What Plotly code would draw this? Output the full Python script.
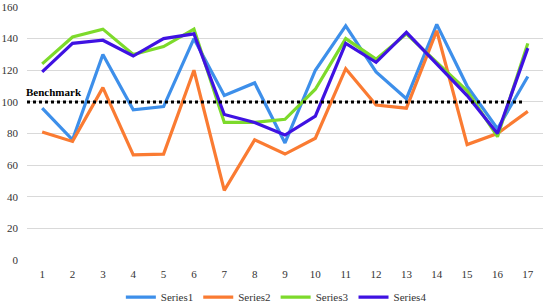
import plotly.graph_objects as go

categories = list(range(1, 18))
series1 = [96, 76, 130, 95, 97, 140, 104, 112, 74, 120, 148, 119, 102, 149, 110, 83, 116]
series2 = [81, 75, 109, 66.5, 67, 120, 44, 76, 67, 77, 121, 98, 96, 145, 73, 80, 94]
series3 = [124, 141, 146, 130, 135, 146, 87, 87, 89, 108, 140, 127, 143, 125, 107, 78, 137]
series4 = [119, 137, 139, 129, 140, 143, 92, 87, 79, 91, 137, 125, 144, 124, 104, 80, 134]
series_names = ["Series1", "Series2", "Series3", "Series4"]
series_colors = ["#3D8FEA", "#FA7B32", "#7DDA2B", "#3F12E2"]
benchmark_value = 100
benchmark_span = [0.5, 16.9]
benchmark_label = "Benchmark"
y_ticks = [0, 20, 40, 60, 80, 100, 120, 140, 160]

FONT = "Liberation Serif, Times New Roman, serif"

fig = go.Figure()
for name, vals, col in zip(series_names, [series1, series2, series3, series4], series_colors):
    fig.add_trace(go.Scatter(x=categories, y=vals, mode="lines", name=name,
                             line=dict(color=col, width=3.2)))

fig.add_trace(go.Scatter(x=benchmark_span, y=[benchmark_value] * len(benchmark_span),
                         mode="lines", showlegend=False, hoverinfo="skip",
                         line=dict(color="black", width=3, dash="dot")))

fig.add_annotation(x=benchmark_span[0], y=benchmark_value, xref="x", yref="y",
                   text="<b>" + benchmark_label + "</b>", showarrow=False,
                   xanchor="left", yanchor="bottom", yshift=2, xshift=-3,
                   font=dict(family=FONT, size=11, color="black"))

fig.update_layout(
    width=544, height=305,
    margin=dict(l=27, r=1, t=7, b=45, autoexpand=False),
    paper_bgcolor="white", plot_bgcolor="white",
    font=dict(family=FONT, size=11, color="#333333"),
    showlegend=True,
    legend=dict(orientation="h", xref="container", yref="container",
                x=0.508, xanchor="center", y=0.026, yanchor="middle",
                font=dict(family=FONT, size=11, color="#333333"),
                itemwidth=30, tracegroupgap=0),
)
fig.update_xaxes(range=[0.5, 17.5], tickmode="array", tickvals=categories,
                 ticktext=[str(c) for c in categories], showgrid=False,
                 zeroline=False, showline=False, ticks="", ticklabelstandoff=6,
                 automargin=False)
fig.update_yaxes(range=[0, 160], tickmode="array", tickvals=y_ticks,
                 showgrid=True, gridcolor="#D9D9D9", gridwidth=1,
                 zeroline=False, showline=False, ticks="", ticklabelstandoff=8,
                 automargin=False)

fig.write_html("out.html", config={"displayModeBar": False},
               post_script="document.body.style.margin='0';document.body.style.overflow='hidden';")
